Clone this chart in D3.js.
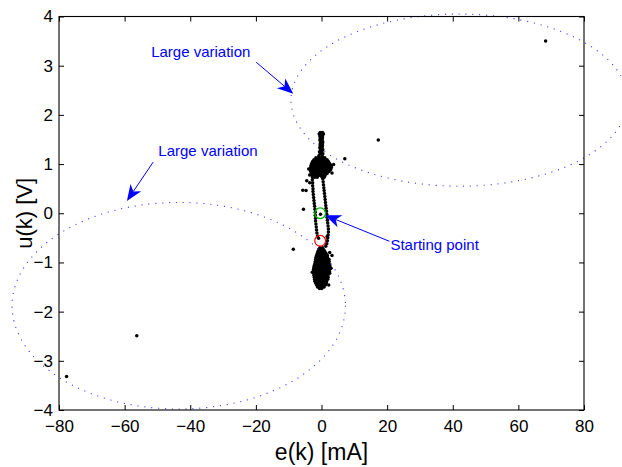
<!DOCTYPE html>
<html><head><meta charset="utf-8">
<script src="https://cdn.jsdelivr.net/npm/d3@7"></script>
<style>
html,body{margin:0;padding:0;background:#fff;}
text{font-family:"Liberation Sans",Arial,Helvetica,sans-serif;}
</style></head>
<body><svg id="c" width="622" height="467"></svg>
<script>
// ---- data ----
const xTicks = [-80,-60,-40,-20,0,20,40,60,80];
const yTicks = [-4,-3,-2,-1,0,1,2,3,4];
const xLabel = "e(k) [mA]";
const yLabel = "u(k) [V]";

// top stem rows [y, xs]
const stemRows = [
 [1.64,[-0.4,0.3]],[1.61,[-0.7,0,0.6]],[1.57,[-0.5,0.3]],[1.53,[-0.4,0.3]],
 [1.49,[-0.5,0.2]],[1.45,[-0.3,0.4]],[1.41,[-0.4,0.3]],[1.37,[-0.4,0.3]],
 [1.33,[-0.5,0.2]],[1.29,[-0.3,0.4]],[1.25,[-0.6,0.1]],[1.21,[-0.4,0.4]],[1.17,[-0.8,0.2]]
];
// upper blob rows
const upperRows = [
 [1.13,[-1.7,-0.9,-0.2,0.5,1.0]],
 [1.09,[-2.3,-1.6,-0.9,-0.2,0.5,1.2,1.7]],
 [1.05,[-2.7,-2.0,-1.3,-0.6,0.1,0.8,1.5,2.1]],
 [1.01,[-3.0,-2.3,-1.6,-0.9,-0.2,0.5,1.2,1.9,2.5]],
 [0.97,[-3.2,-2.5,-1.8,-1.1,-0.4,0.3,1.0,1.7,2.4,3.0]],
 [0.93,[-3.3,-2.6,-1.9,-1.2,-0.5,0.2,0.9,1.6,2.3,3.0]],
 [0.89,[-3.4,-2.7,-2.0,-1.3,-0.6,0.1,0.8,1.5,2.2,2.8]],
 [0.85,[-3.3,-2.6,-1.9,-1.2,-0.5,0.2,0.9,1.6,2.3]],
 [0.81,[-3.1,-2.4,-1.7,-1.0,-0.3,0.4,1.1,1.7]],
 [0.77,[-2.9,-2.2,-1.5,-0.8,-0.1,0.6,1.1]],
 [0.73,[-2.7,-2.0,-1.3,0.2,0.8]]
];
// lower blob rows
const lowerRows = [
 [-0.70,[-0.5,0.3]],
 [-0.74,[-0.8,0,0.7]],
 [-0.78,[-1.1,-0.4,0.3,1.0]],
 [-0.82,[-1.3,-0.6,0.1,0.8,1.4]],
 [-0.86,[-1.5,-0.8,-0.1,0.6,1.3,1.8]],
 [-0.90,[-1.7,-1.0,-0.3,0.4,1.1,1.8]],
 [-0.94,[-1.8,-1.1,-0.4,0.3,1.0,1.7,2.3]],
 [-0.98,[-1.9,-1.2,-0.5,0.2,0.9,1.6,2.3]],
 [-1.02,[-2.0,-1.3,-0.6,0.1,0.8,1.5,2.3]],
 [-1.06,[-2.2,-1.5,-0.8,-0.1,0.6,1.3,2.0,2.5]],
 [-1.10,[-2.3,-1.6,-0.9,-0.2,0.5,1.2,1.9,2.6]],
 [-1.14,[-2.4,-1.7,-1.0,-0.3,0.4,1.1,1.8,2.5]],
 [-1.18,[-2.4,-1.7,-1.0,-0.3,0.4,1.1,1.8,2.4]],
 [-1.22,[-2.4,-1.7,-1.0,-0.3,0.4,1.1,1.8,2.5]],
 [-1.26,[-2.3,-1.6,-0.9,-0.2,0.5,1.2,1.9]],
 [-1.30,[-2.2,-1.5,-0.8,-0.1,0.6,1.3,2.0]],
 [-1.34,[-2.1,-1.4,-0.7,0,0.7,1.4,1.9]],
 [-1.38,[-2.0,-1.3,-0.6,0.1,0.8,1.5]],
 [-1.42,[-1.8,-1.1,-0.4,0.3,1.0,1.5]],
 [-1.46,[-1.5,-0.8,-0.1,0.6,1.2]],
 [-1.50,[-1.2,-0.5,0.2,0.8]],
 [-1.53,[-0.6,0.1]]
];
// left and right strands [x, y]
const leftStrand = [
 [-2.8,0.68],[-2.7,0.62],[-2.7,0.56],[-2.6,0.50],[-2.6,0.44],[-2.5,0.38],[-2.4,0.32],
 [-2.3,0.26],[-2.2,0.20],[-2.1,0.14],[-2.0,0.08],[-1.9,0.02],[-1.9,-0.04],[-1.8,-0.10],
 [-1.8,-0.16],[-1.7,-0.22],[-1.6,-0.28],[-1.5,-0.34],[-1.4,-0.40],[-1.2,-0.46],[-0.9,-0.51]
];
const rightStrand = [
 [0.4,0.70],[0.5,0.64],[0.6,0.58],[0.7,0.52],[0.8,0.46],[0.9,0.40],[1.0,0.34],[1.1,0.28],
 [1.2,0.22],[1.3,0.16],[1.4,0.10],[1.5,0.04],[1.6,-0.02],[1.7,-0.08],[1.8,-0.14],[1.9,-0.20],
 [2.0,-0.26],[2.1,-0.32],[2.1,-0.38],[2.0,-0.44],[1.9,-0.50],[1.8,-0.56],[1.6,-0.62],[1.3,-0.67]
];
// scattered points [x, y]
const outliers = [
 [68.3,3.5],[17.3,1.49],[7.1,1.11],[3.7,0.99],[3.2,0.82],[-3.9,0.90],[-3.6,0.78],
 [-4.5,0.66],[-3.6,0.62],[-5.7,0.47],[-4.7,0.46],[-5.5,0.08],[-8.6,-0.73],
 [-0.3,-0.02],[1.7,-0.48],[2.5,-0.80],[3.2,-0.86],[2.9,-1.12],[-2.8,-1.2],[2.2,-1.46],
 [-56.3,-2.49],[-77.7,-3.32]
];
// markers / annotations
const startCircle = [-0.4, 0.0];
const endCircle = [-0.4, -0.56];
const ellipses = [ {cx:42, cy:2.3, rx:51.3, ry:1.75}, {cx:-43.5, cy:-1.88, rx:50.8, ry:2.1} ];
const notes = [
 {text:"Large variation", tx:-36.8, ty:3.28, from:[-19.9,3.07], to:[-8.6,2.43]},
 {text:"Large variation", tx:-34.6, ty:1.28, from:[-51.3,1.04], to:[-59.3,0.25]},
 {text:"Starting point", tx:21.0, ty:-0.64, from:[20.7,-0.57], to:[1.1,-0.04], anchor:"start"}
];

// ---- chart ----
const W=622,H=467, L=59,R=584,T=16.5,B=410;
const svg=d3.select("#c");
const x=d3.scaleLinear().domain([-80,80]).range([L,R]);
const y=d3.scaleLinear().domain([-4,4]).range([B,T]);

// ellipses
svg.append("g").selectAll("ellipse").data(ellipses).join("ellipse")
 .attr("cx",d=>x(d.cx)).attr("cy",d=>y(d.cy))
 .attr("rx",d=>x(d.cx+d.rx)-x(d.cx)).attr("ry",d=>y(d.cy)-y(d.cy+d.ry))
 .attr("fill","none").attr("stroke","#3b3bff").attr("stroke-width",1.1)
 .attr("stroke-dasharray","1.1 5.8");

// points
const pts=[];
[stemRows,upperRows,lowerRows].forEach(rows=>rows.forEach(([yy,xs])=>xs.forEach(xx=>pts.push([xx,yy]))));
leftStrand.concat(rightStrand,outliers).forEach(p=>pts.push(p));
svg.append("g").selectAll("circle").data(pts).join("circle")
 .attr("cx",d=>x(d[0])).attr("cy",d=>y(d[1])).attr("r",1.75).attr("fill","#000");

// start/end circles
svg.append("circle").attr("cx",x(startCircle[0])).attr("cy",y(startCircle[1])).attr("r",5.4)
 .attr("fill","none").attr("stroke","#00b400").attr("stroke-width",1.3);
svg.append("circle").attr("cx",x(endCircle[0])).attr("cy",y(endCircle[1])).attr("r",5.4)
 .attr("fill","none").attr("stroke","#ff0000").attr("stroke-width",1.2);

// axes box
svg.append("rect").attr("x",L).attr("y",T).attr("width",R-L).attr("height",B-T)
 .attr("fill","none").attr("stroke","#000").attr("stroke-width",1.1);
const tk=5;
function mkAxis(gen,tr,labels){
 const a=svg.append("g").attr("transform",tr).call(gen);
 a.select(".domain").remove();
 a.selectAll("line").attr("stroke","#000");
 if(!labels) a.selectAll("text").remove();
 else a.selectAll("text").attr("font-size",17).attr("fill","#000")
   .attr("font-family","'Liberation Sans',Arial,sans-serif");
 return a;
}
mkAxis(d3.axisBottom(x).tickValues(xTicks).tickSizeInner(-tk).tickSizeOuter(0).tickPadding(10),`translate(0,${B})`,true);
mkAxis(d3.axisTop(x).tickValues(xTicks).tickSizeInner(-tk).tickSizeOuter(0),`translate(0,${T})`,false);
mkAxis(d3.axisLeft(y).tickValues(yTicks).tickSizeInner(-tk).tickSizeOuter(0).tickPadding(6),`translate(${L},0)`,true);
mkAxis(d3.axisRight(y).tickValues(yTicks).tickSizeInner(-tk).tickSizeOuter(0),`translate(${R},0)`,false);

// axis labels
svg.append("text").attr("x",(L+R)/2).attr("y",460).attr("text-anchor","middle")
 .attr("font-size",23).text(xLabel);
svg.append("text").attr("transform",`translate(32,${(T+B)/2}) rotate(-90)`).attr("text-anchor","middle")
 .attr("font-size",22).text(yLabel);

// annotations
const blue="#0000ff";
notes.forEach(n=>{
 svg.append("text").attr("x",x(n.tx)).attr("y",y(n.ty)).attr("dy","0.35em")
  .attr("text-anchor",n.anchor||"middle").attr("font-size",15).attr("fill",blue).text(n.text);
 const x1=x(n.from[0]),y1=y(n.from[1]),x2=x(n.to[0]),y2=y(n.to[1]);
 const dx=x2-x1,dy=y2-y1,len=Math.hypot(dx,dy),ux=dx/len,uy=dy/len,nx=-uy,ny=ux;
 const Lh=16,Wh=6.5,notch=4.5;
 svg.append("line").attr("x1",x1).attr("y1",y1).attr("x2",x2-ux*(Lh-notch)).attr("y2",y2-uy*(Lh-notch))
  .attr("stroke",blue).attr("stroke-width",1);
 const head=[[x2,y2],[x2-ux*Lh+nx*Wh,y2-uy*Lh+ny*Wh],[x2-ux*(Lh-notch),y2-uy*(Lh-notch)],[x2-ux*Lh-nx*Wh,y2-uy*Lh-ny*Wh]];
 svg.append("polygon").attr("points",head.map(p=>p.join(",")).join(" ")).attr("fill",blue);
});
</script></body></html>
